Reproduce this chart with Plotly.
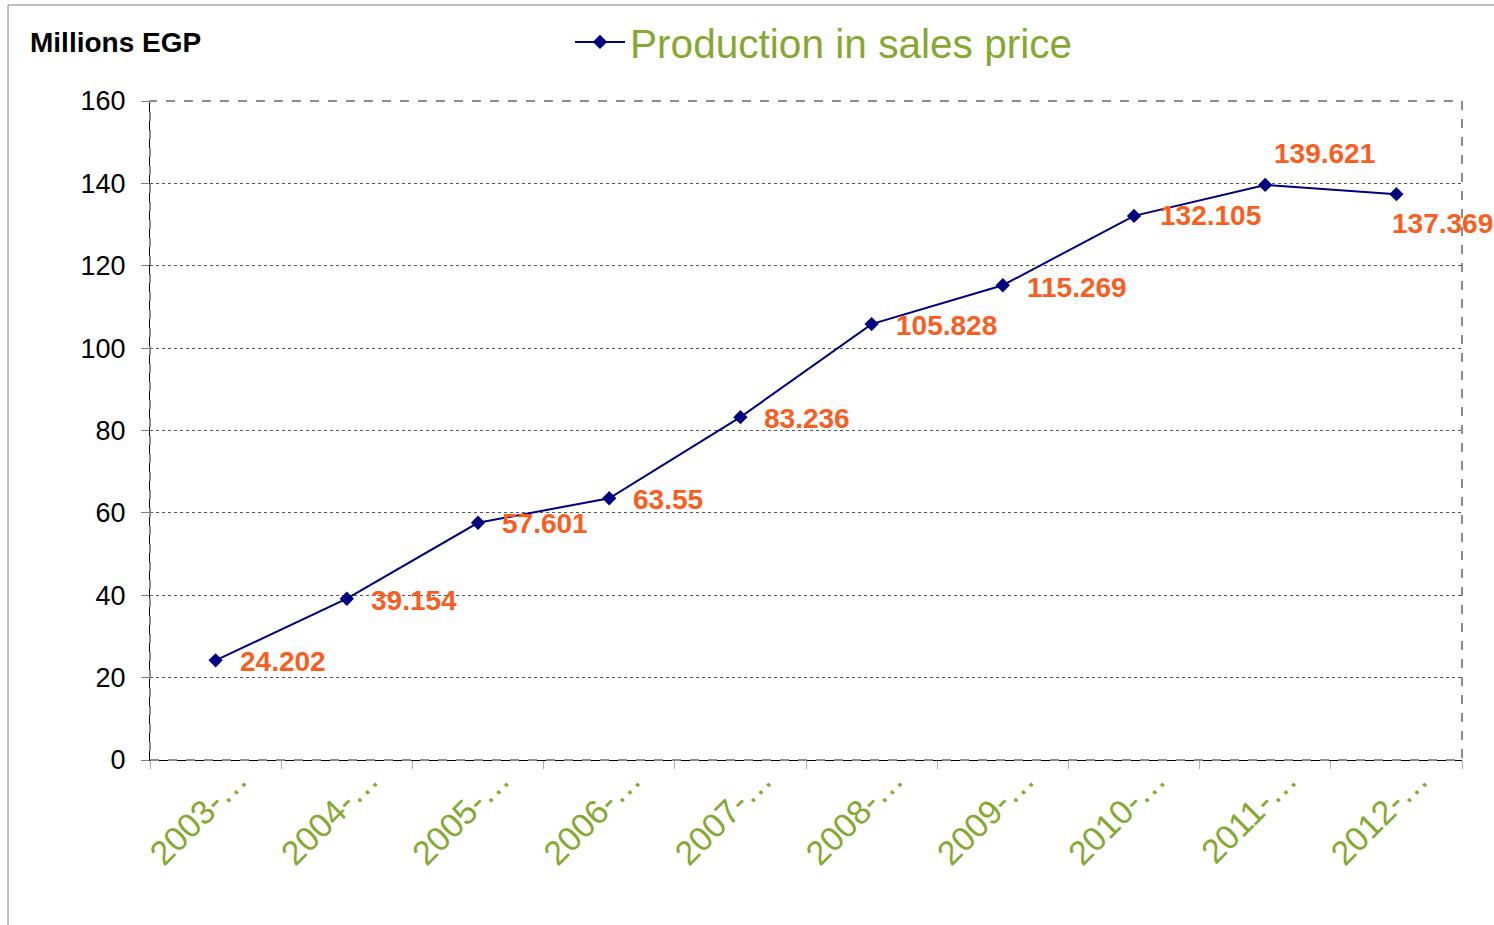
import plotly.graph_objects as go

categories = ["2003-…", "2004-…", "2005-…", "2006-…", "2007-…",
              "2008-…", "2009-…", "2010-…", "2011-…", "2012-…"]
values = [24.202, 39.154, 57.601, 63.55, 83.236,
          105.828, 115.269, 132.105, 139.621, 137.369]
labels = ["24.202", "39.154", "57.601", "63.55", "83.236",
          "105.828", "115.269", "132.105", "139.621", "137.369"]
series_name = "Production in sales price"
y_title = "Millions EGP"

FONT = "Liberation Sans, Arial, sans-serif"
NAVY = "#000080"
GREEN = "#86A832"
ORANGE = "#FA5E1F"

# label offsets (style, px) relative to each point
label_dx = [22, 22, 22, 22, 22, 22, 22, 24, 7, -6]
label_dy = [-1, -2, -1, -1, -1, -1, -2, 0, 31, -29]

fig = go.Figure()
fig.add_trace(go.Scatter(
    x=categories, y=values, name=series_name,
    mode="lines+markers",
    line=dict(color=NAVY, width=2),
    marker=dict(symbol="diamond", size=11, color=NAVY),
    cliponaxis=False,
))

L, R, T, B = 150, 32, 101, 165
W, H = 1494, 925
pw, ph = W - L - R, H - T - B

def px(x):
    return (x - L) / pw

def py(y):
    return (H - B - y) / ph

annotations = [
    dict(text="<b>" + y_title + "</b>", xref="paper", yref="paper",
         x=px(28), y=py(42), xanchor="left", yanchor="middle",
         showarrow=False, font=dict(family=FONT, size=28, color="black")),
]
for c, v, t, dx, dy in zip(categories, values, labels, label_dx, label_dy):
    annotations.append(dict(
        x=c, y=v, xref="x", yref="y", text="<b>" + t + "</b>",
        xanchor="left", yanchor="middle", xshift=dx, yshift=dy,
        showarrow=False, font=dict(family=FONT, size=28, color=ORANGE),
    ))

fig.update_layout(
    width=W, height=H,
    margin=dict(l=L, r=R, t=T, b=B, autoexpand=False),
    paper_bgcolor="white", plot_bgcolor="white",
    font=dict(family=FONT),
    showlegend=True,
    legend=dict(
        orientation="h", x=px(570), xanchor="left", y=py(42), yanchor="middle",
        font=dict(family=FONT, size=40.6, color=GREEN),
        itemwidth=50, bgcolor="rgba(0,0,0,0)",
    ),
    xaxis=dict(
        type="category",
        tickson="boundaries", ticks="outside", ticklen=8, tickcolor="#b0b0b0",
        tickangle=-45, ticklabelshift=22, ticklabelstandoff=-15,
        tickfont=dict(family=FONT, size=34, color=GREEN),
        showgrid=False, zeroline=False,
        showline=True, linecolor="black", linewidth=1,
        range=[-0.5, 9.5],
    ),
    yaxis=dict(
        range=[0, 160], dtick=20,
        ticks="outside", ticklen=8, tickcolor="#808080",
        ticklabelstandoff=10,
        tickfont=dict(family=FONT, size=27, color="black"),
        showgrid=True, gridcolor="#555555", griddash="dot", gridwidth=1,
        zeroline=False,
        showline=True, linecolor="black", linewidth=1,
    ),
    shapes=[
        dict(type="rect", xref="paper", yref="paper", x0=0, x1=1, y0=0, y1=1,
             line=dict(color="#8c8c8c", width=2, dash="dash"), layer="above"),
        dict(type="line", xref="paper", yref="paper", x0=px(8), x1=px(1494),
             y0=py(5), y1=py(5), line=dict(color="#808080", width=1)),
        dict(type="line", xref="paper", yref="paper", x0=px(8), x1=px(8),
             y0=py(5), y1=py(925), line=dict(color="#808080", width=1)),
    ],
    annotations=annotations,
)

fig.write_html(
    "out.html", config={"displayModeBar": False},
    post_script=(
        "document.body.style.margin='0';"
        "var d=document.getElementById('{plot_id}');"
        "d.style.position='absolute';d.style.top='0px';d.style.left='0px';"
    ),
)
